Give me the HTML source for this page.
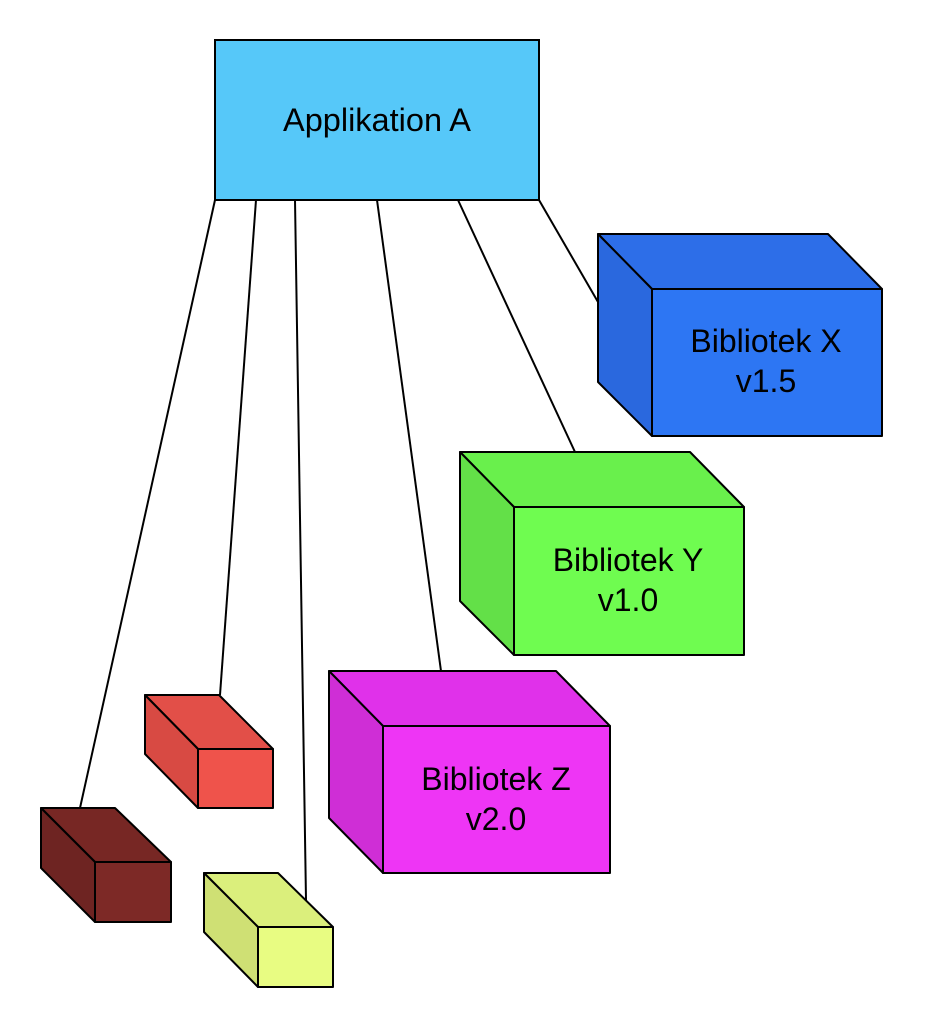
<!DOCTYPE html>
<html><head><meta charset="utf-8"><style>html,body{margin:0;padding:0;background:#fff}svg{display:block}</style></head>
<body>
<svg width="944" height="1028" viewBox="0 0 944 1028" xmlns="http://www.w3.org/2000/svg" font-family="Liberation Sans, sans-serif">
<g stroke="#000" stroke-width="2" fill="none">
<line x1="215" y1="200" x2="80" y2="808"/>
<line x1="256" y1="200" x2="220" y2="695"/>
<line x1="295" y1="200" x2="306" y2="900"/>
<line x1="377" y1="200" x2="441" y2="671"/>
<line x1="458" y1="200" x2="575" y2="452"/>
<line x1="539" y1="200" x2="598" y2="302"/>
</g>
<rect x="215" y="40" width="324" height="160" fill="#56c8f9" stroke="#000" stroke-width="2"/>
<text x="377" y="131" font-size="32.5" text-anchor="middle">Applikation A</text>
<g stroke="#000" stroke-width="2" stroke-linejoin="round">
<polygon points="598,234 828,234 882,289 652,289" fill="#2d6ee8"/>
<polygon points="598,234 652,289 652,436 598,382" fill="#2a68de"/>
<rect x="652" y="289" width="230" height="147" fill="#2d76f3"/>
<polygon points="460,452 690,452 744,507 514,507" fill="#69f04c"/>
<polygon points="460,452 514,507 514,655 460,601" fill="#63e048"/>
<rect x="514" y="507" width="230" height="148" fill="#6ffc50"/>
<polygon points="329,671 556,671 610,726 383,726" fill="#e031ea"/>
<polygon points="329,671 383,726 383,873 329,818" fill="#cf2ed6"/>
<rect x="383" y="726" width="227" height="147" fill="#ee35f5"/>
<polygon points="145,695 219,695 273,749 198,749" fill="#e24f48"/>
<polygon points="145,695 198,749 198,808 145,754" fill="#d84a43"/>
<rect x="198" y="749" width="75" height="59" fill="#ef534b"/>
<polygon points="41,808 115,808 171,862 95,862" fill="#772724"/>
<polygon points="41,808 95,862 95,922 41,868" fill="#6e2422"/>
<rect x="95" y="862" width="76" height="60" fill="#7d2926"/>
<polygon points="204,873 278,873 333,927 258,927" fill="#dbef7c"/>
<polygon points="204,873 258,927 258,987 204,932" fill="#cfe074"/>
<rect x="258" y="927" width="75" height="60" fill="#e8fc82"/>
</g>
<g font-size="32" text-anchor="middle" fill="#000">
<text x="766" y="352">Bibliotek X</text><text x="766" y="392">v1.5</text>
<text x="628" y="571">Bibliotek Y</text><text x="628" y="611">v1.0</text>
<text x="496" y="790">Bibliotek Z</text><text x="496" y="830">v2.0</text>
</g>
</svg>
</body></html>
